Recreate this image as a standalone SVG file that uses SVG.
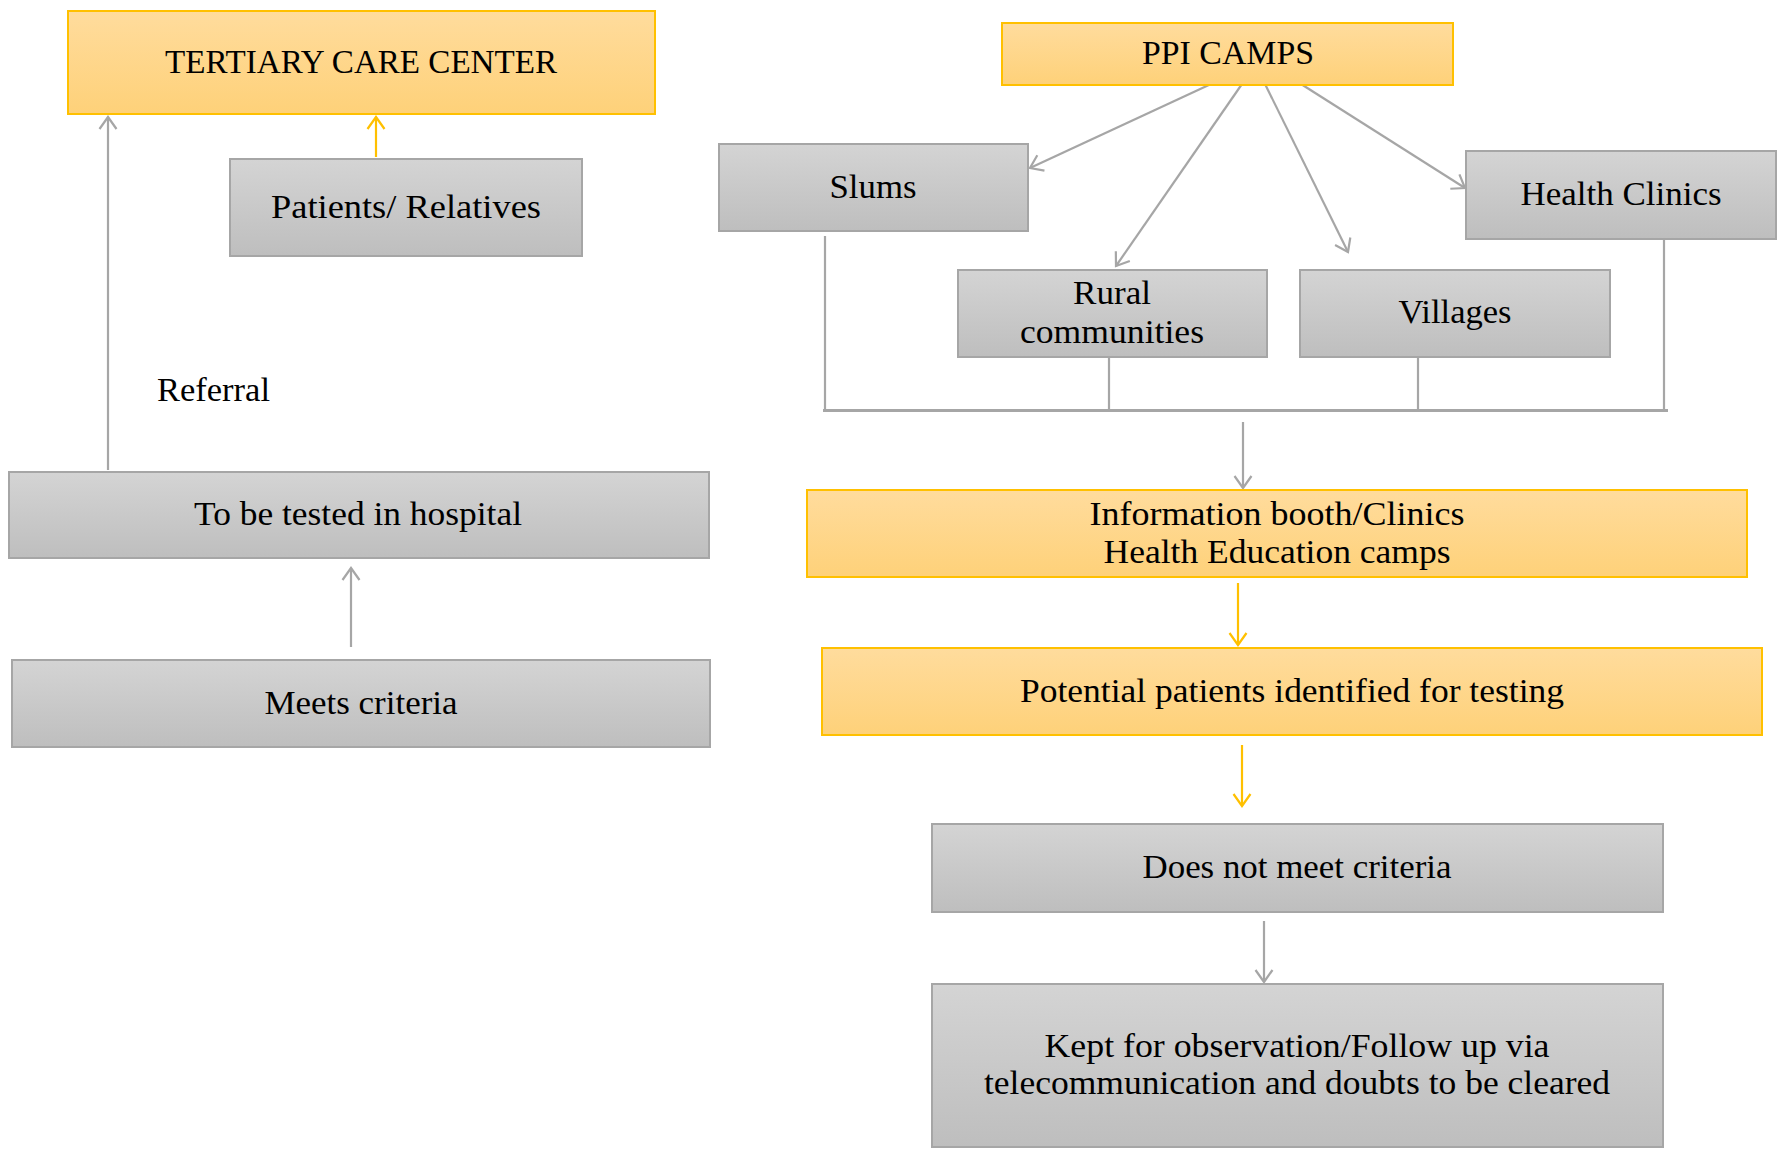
<svg xmlns="http://www.w3.org/2000/svg" width="1780" height="1153" viewBox="0 0 1780 1153">
<defs>
<linearGradient id="gGray" x1="0" y1="0" x2="0" y2="1">
<stop offset="0" stop-color="#d4d4d4"/>
<stop offset="1" stop-color="#bebebe"/>
</linearGradient>
<linearGradient id="gGold" x1="0" y1="0" x2="0" y2="1">
<stop offset="0" stop-color="#ffdc9d"/>
<stop offset="1" stop-color="#fed179"/>
</linearGradient>
<marker id="aGray" markerUnits="userSpaceOnUse" markerWidth="26" markerHeight="26" viewBox="-13 -13 26 26" refX="0" refY="0" orient="auto">
<path d="M-12,-8.5 L0,0 L-12,8.5" fill="none" stroke="#a6a6a6" stroke-width="2.2"/>
</marker>
<marker id="aGold" markerUnits="userSpaceOnUse" markerWidth="26" markerHeight="26" viewBox="-13 -13 26 26" refX="0" refY="0" orient="auto">
<path d="M-12,-8.5 L0,0 L-12,8.5" fill="none" stroke="#ffc000" stroke-width="2.2"/>
</marker>
</defs>
<style>
.gray{fill:url(#gGray);stroke:#a6a6a6;stroke-width:2}
.gold{fill:url(#gGold);stroke:#ffc000;stroke-width:2}
text{font-family:"Liberation Serif","Times New Roman",serif;font-size:33px;fill:#000;text-anchor:middle}
.cg{fill:none;stroke:#a6a6a6;stroke-width:2.2}
.cy{fill:none;stroke:#ffc000;stroke-width:2.2}
</style>
<rect width="1780" height="1153" fill="#fff"/>

<g id="connectors">
<line class="cg" x1="108" y1="470" x2="108" y2="117" marker-end="url(#aGray)"/>
<line class="cy" x1="376" y1="157" x2="376" y2="117" marker-end="url(#aGold)"/>
<line class="cg" x1="351" y1="647" x2="351" y2="568" marker-end="url(#aGray)"/>
<line class="cg" x1="1211" y1="84" x2="1030" y2="168" marker-end="url(#aGray)"/>
<line class="cg" x1="1242" y1="84" x2="1116" y2="266" marker-end="url(#aGray)"/>
<line class="cg" x1="1265" y1="84" x2="1348" y2="252" marker-end="url(#aGray)"/>
<line class="cg" x1="1301" y1="84" x2="1465" y2="188" marker-end="url(#aGray)"/>
<line class="cg" x1="825" y1="236" x2="825" y2="409"/>
<line class="cg" x1="1109" y1="357" x2="1109" y2="409"/>
<line class="cg" x1="1418" y1="353" x2="1418" y2="409"/>
<line class="cg" x1="1664" y1="238" x2="1664" y2="409"/>
<line x1="823" y1="410.5" x2="1668" y2="410.5" stroke="#a6a6a6" stroke-width="3"/>
<line class="cg" x1="1243" y1="422" x2="1243" y2="488" marker-end="url(#aGray)"/>
<line class="cy" x1="1238" y1="583" x2="1238" y2="645" marker-end="url(#aGold)"/>
<line class="cy" x1="1242" y1="745" x2="1242" y2="806" marker-end="url(#aGold)"/>
<line class="cg" x1="1264" y1="921" x2="1264" y2="982" marker-end="url(#aGray)"/>
</g>

<g id="tertiary"><rect class="gold" x="68" y="11" width="587" height="103"/><text x="361" y="73" textLength="392" lengthAdjust="spacingAndGlyphs">TERTIARY CARE CENTER</text></g>
<g id="patients"><rect class="gray" x="230" y="159" width="352" height="97"/><text x="406" y="218" textLength="270" lengthAdjust="spacingAndGlyphs">Patients/ Relatives</text></g>
<g id="referral"><text x="157" y="401" style="text-anchor:start" textLength="113" lengthAdjust="spacingAndGlyphs">Referral</text></g>
<g id="tested"><rect class="gray" x="9" y="472" width="700" height="86"/><text x="358" y="525" textLength="328" lengthAdjust="spacingAndGlyphs">To be tested in hospital</text></g>
<g id="meets"><rect class="gray" x="12" y="660" width="698" height="87"/><text x="361" y="714" textLength="193" lengthAdjust="spacingAndGlyphs">Meets criteria</text></g>

<g id="ppi"><rect class="gold" x="1002" y="23" width="451" height="62"/><text x="1228" y="64" textLength="172" lengthAdjust="spacingAndGlyphs">PPI CAMPS</text></g>
<g id="slums"><rect class="gray" x="719" y="144" width="309" height="87"/><text x="873" y="198" textLength="87" lengthAdjust="spacingAndGlyphs">Slums</text></g>
<g id="health"><rect class="gray" x="1466" y="151" width="310" height="88"/><text x="1621" y="205" textLength="201" lengthAdjust="spacingAndGlyphs">Health Clinics</text></g>
<g id="rural"><rect class="gray" x="958" y="270" width="309" height="87"/><text x="1112" y="304" textLength="78" lengthAdjust="spacingAndGlyphs">Rural</text><text x="1112" y="343" textLength="184" lengthAdjust="spacingAndGlyphs">communities</text></g>
<g id="villages"><rect class="gray" x="1300" y="270" width="310" height="87"/><text x="1455" y="323" textLength="113" lengthAdjust="spacingAndGlyphs">Villages</text></g>
<g id="info"><rect class="gold" x="807" y="490" width="940" height="87"/><text x="1277" y="525" textLength="375" lengthAdjust="spacingAndGlyphs">Information booth/Clinics</text><text x="1277" y="563" textLength="347" lengthAdjust="spacingAndGlyphs">Health Education camps</text></g>
<g id="potential"><rect class="gold" x="822" y="648" width="940" height="87"/><text x="1292" y="702" textLength="544" lengthAdjust="spacingAndGlyphs">Potential patients identified for testing</text></g>
<g id="notmeet"><rect class="gray" x="932" y="824" width="731" height="88"/><text x="1297" y="878" textLength="309" lengthAdjust="spacingAndGlyphs">Does not meet criteria</text></g>
<g id="kept"><rect class="gray" x="932" y="984" width="731" height="163"/><text x="1297" y="1057" textLength="505" lengthAdjust="spacingAndGlyphs">Kept for observation/Follow up via</text><text x="1297" y="1094" textLength="626" lengthAdjust="spacingAndGlyphs">telecommunication and doubts to be cleared</text></g>
</svg>
